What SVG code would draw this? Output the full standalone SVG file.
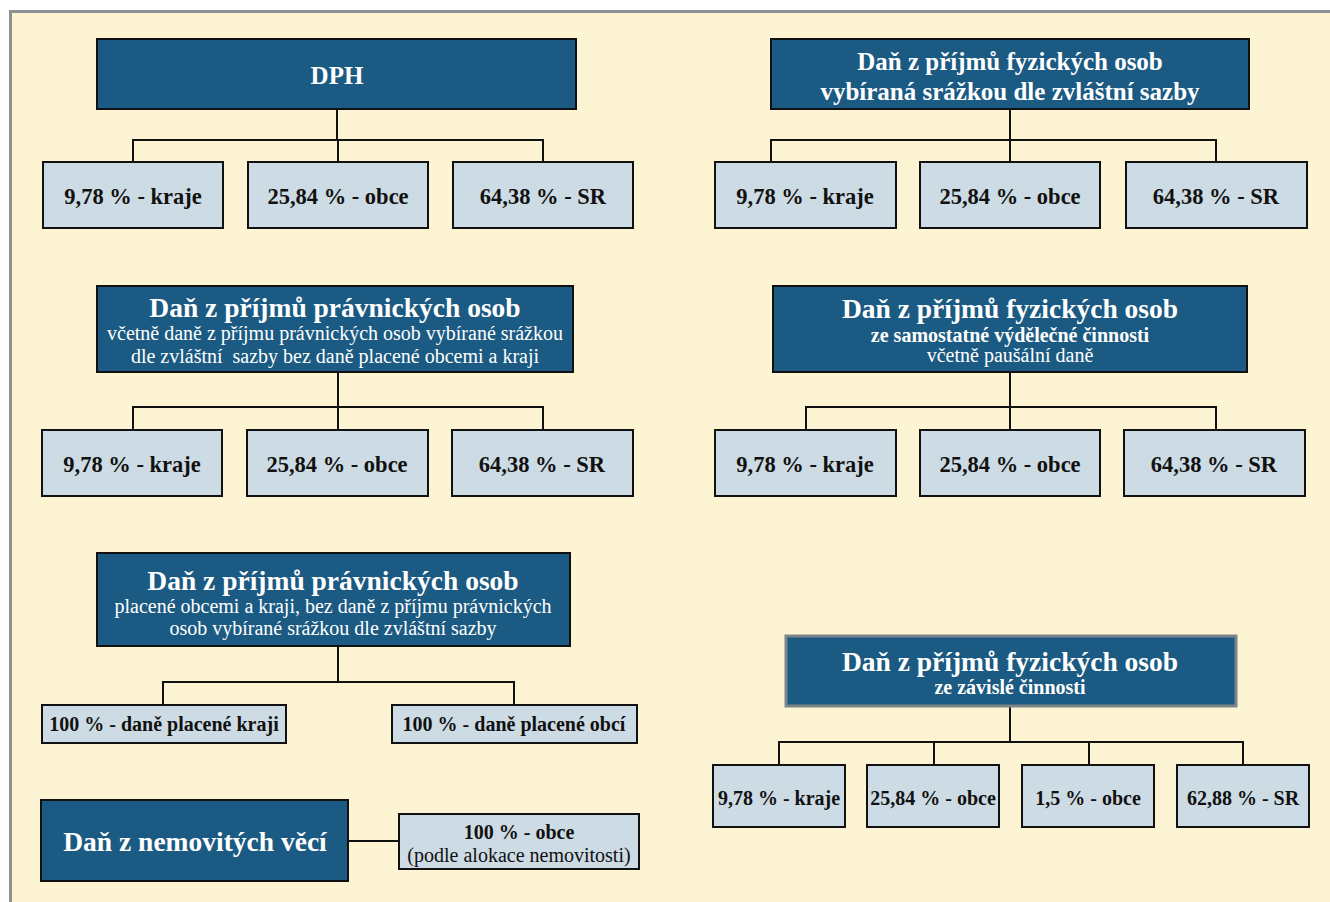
<svg xmlns="http://www.w3.org/2000/svg" width="1330" height="902" viewBox="0 0 1330 902">
<style>
.bg{fill:#fdf4d3;stroke:#8a9296;stroke-width:3}
.dk{fill:#1b5a82;stroke:#111;stroke-width:2}
.dkg{fill:#1b5a82;stroke:#7d8589;stroke-width:3}
.lt{fill:#cddbe4;stroke:#111;stroke-width:2}
.ln{fill:none;stroke:#111;stroke-width:2}
text{font-family:"Liberation Serif","DejaVu Serif",serif;text-anchor:middle}
.t{fill:#fff;font-weight:bold;font-size:27.5px}
.t2{fill:#fff;font-weight:bold;font-size:25px}
.s{fill:#fff;font-size:20px}
.sb{fill:#fff;font-weight:bold;font-size:20px}
.c{fill:#111;font-weight:bold;font-size:22.5px}
.cs{fill:#111;font-weight:bold;font-size:20px}
.cn{fill:#111;font-size:20px}
</style>
<rect x="0" y="0" width="1330" height="902" fill="#fff"/>
<rect class="bg" x="10.5" y="11.5" width="1330" height="900"/>
<g id="connectors">
<path class="ln" d="M337 109V140M133 162V140H543V162M338 140V162"/>
<path class="ln" d="M1010 109V162M771 162V140H1216V162"/>
<path class="ln" d="M338 372V430M133 430V407H543V430"/>
<path class="ln" d="M1010 372V430M806 430V407H1216V430"/>
<path class="ln" d="M338 646V682M163 705V682H514V705"/>
<path class="ln" d="M1010 706V742M779 765V742H1243V765M934 742V765M1089 742V765"/>
<path class="ln" d="M348 841H399"/>
</g>
<g id="dph"><rect class="dk" x="97" y="39" width="479" height="70"/><text class="t2" x="337" y="84" font-size="26">DPH</text></g>
<g id="dph-kraje"><rect class="lt" x="43" y="162" width="180" height="66"/><text class="c" x="133" y="204">9,78 % - kraje</text></g>
<g id="dph-obce"><rect class="lt" x="248" y="162" width="180" height="66"/><text class="c" x="338" y="204">25,84 % - obce</text></g>
<g id="dph-sr"><rect class="lt" x="453" y="162" width="180" height="66"/><text class="c" x="543" y="204">64,38 % - SR</text></g>

<g id="dpfo-srazka"><rect class="dk" x="771" y="39" width="478" height="70"/><text class="t2" x="1010" y="70">Daň z příjmů fyzických osob</text><text class="t2" x="1010" y="100" font-size="24.5">vybíraná srážkou dle zvláštní sazby</text></g>
<g id="dpfo1-kraje"><rect class="lt" x="715" y="162" width="181" height="66"/><text class="c" x="805" y="204">9,78 % - kraje</text></g>
<g id="dpfo1-obce"><rect class="lt" x="920" y="162" width="180" height="66"/><text class="c" x="1010" y="204">25,84 % - obce</text></g>
<g id="dpfo1-sr"><rect class="lt" x="1126" y="162" width="181" height="66"/><text class="c" x="1216" y="204">64,38 % - SR</text></g>

<g id="dppo1"><rect class="dk" x="97" y="286" width="476" height="86"/><text class="t" x="335" y="317">Daň z příjmů právnických osob</text><text class="s" x="335" y="340">včetně daně z příjmu právnických osob vybírané srážkou</text><text class="s" x="335" y="363" xml:space="preserve">dle zvláštní  sazby bez daně placené obcemi a kraji</text></g>
<g id="dppo1-kraje"><rect class="lt" x="42" y="430" width="180" height="66"/><text class="c" x="132" y="472">9,78 % - kraje</text></g>
<g id="dppo1-obce"><rect class="lt" x="247" y="430" width="181" height="66"/><text class="c" x="337" y="472">25,84 % - obce</text></g>
<g id="dppo1-sr"><rect class="lt" x="452" y="430" width="181" height="66"/><text class="c" x="542" y="472">64,38 % - SR</text></g>

<g id="dpfo-osvc"><rect class="dk" x="773" y="286" width="474" height="86"/><text class="t" x="1010" y="318">Daň z příjmů fyzických osob</text><text class="sb" x="1010" y="342">ze samostatné výdělečné činnosti</text><text class="s" x="1010" y="362">včetně paušální daně</text></g>
<g id="dpfo2-kraje"><rect class="lt" x="715" y="430" width="181" height="66"/><text class="c" x="805" y="472">9,78 % - kraje</text></g>
<g id="dpfo2-obce"><rect class="lt" x="920" y="430" width="180" height="66"/><text class="c" x="1010" y="472">25,84 % - obce</text></g>
<g id="dpfo2-sr"><rect class="lt" x="1124" y="430" width="181" height="66"/><text class="c" x="1214" y="472">64,38 % - SR</text></g>

<g id="dppo2"><rect class="dk" x="97" y="553" width="473" height="93" stroke-width="3"/><text class="t" x="333" y="590">Daň z příjmů právnických osob</text><text class="s" x="333" y="613">placené obcemi a kraji, bez daně z příjmu právnických</text><text class="s" x="333" y="635">osob vybírané srážkou dle zvláštní sazby</text></g>
<g id="dppo2-kraje"><rect class="lt" x="42" y="705" width="244" height="38"/><text class="cs" x="164" y="731">100 % - daně placené kraji</text></g>
<g id="dppo2-obce"><rect class="lt" x="392" y="705" width="245" height="38"/><text class="cs" x="514" y="731">100 % - daně placené obcí</text></g>

<g id="dpfo-zavisla"><rect class="dkg" x="786" y="636" width="450" height="70"/><text class="t" x="1010" y="671">Daň z příjmů fyzických osob</text><text class="sb" x="1010" y="694">ze závislé činnosti</text></g>
<g id="dpfo3-kraje"><rect class="lt" x="713" y="765" width="132" height="62"/><text class="cs" x="779" y="805">9,78 % - kraje</text></g>
<g id="dpfo3-obce"><rect class="lt" x="867" y="765" width="132" height="62"/><text class="cs" x="933" y="805">25,84 % - obce</text></g>
<g id="dpfo3-obce15"><rect class="lt" x="1022" y="765" width="132" height="62"/><text class="cs" x="1088" y="805">1,5 % - obce</text></g>
<g id="dpfo3-sr"><rect class="lt" x="1177" y="765" width="132" height="62"/><text class="cs" x="1243" y="805">62,88 % - SR</text></g>

<g id="dnv"><rect class="dk" x="41" y="800" width="307" height="81"/><text class="t" x="195" y="851">Daň z nemovitých věcí</text></g>
<g id="dnv-obce"><rect class="lt" x="399" y="814" width="240" height="55"/><text class="cs" x="519" y="839">100 % - obce</text><text class="cn" x="519" y="862">(podle alokace nemovitosti)</text></g>
</svg>
